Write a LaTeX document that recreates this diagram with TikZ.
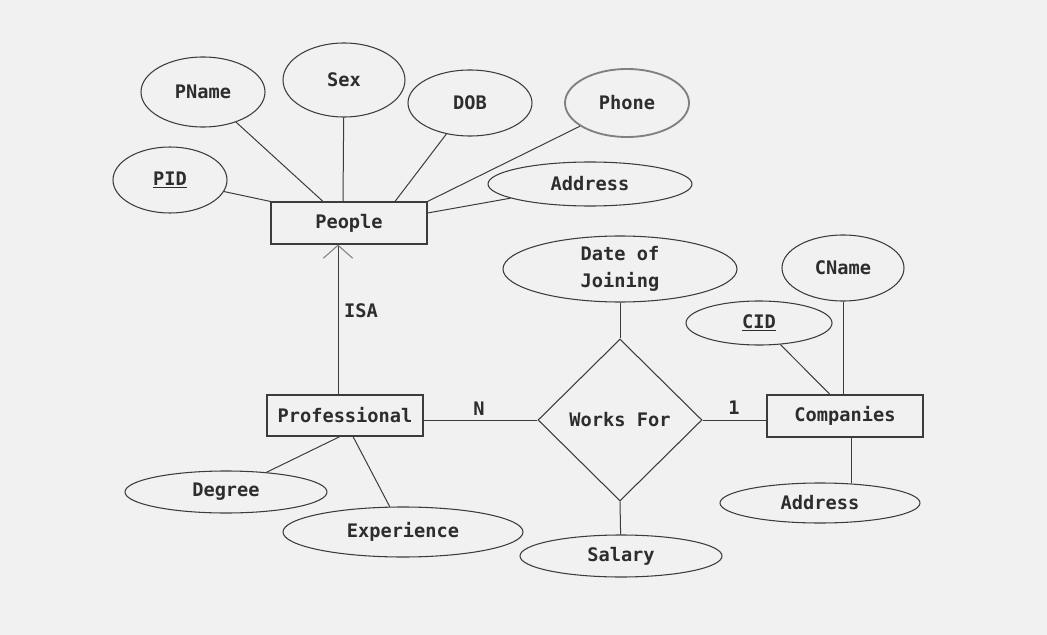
\documentclass[tikz,border=0pt]{standalone}
\usepackage{fontspec}
\setmonofont{DejaVu Sans Mono}
\usetikzlibrary{shapes.geometric,arrows.meta,calc}
\definecolor{bg}{RGB}{241,241,241}
\definecolor{ink}{RGB}{60,60,60}
\definecolor{txt}{RGB}{45,45,45}
\begin{document}
\begin{tikzpicture}[x=0.75pt,y=-0.75pt,
  every node/.style={font=\ttfamily\bfseries\fontsize{14}{20}\selectfont, text=txt},
  attr/.style 2 args={ellipse, draw=ink, line width=0.8pt, inner sep=0pt,
    minimum width=#1*1.5pt, minimum height=#2*1.5pt},
  entity/.style={rectangle, draw=ink, line width=0.8pt, minimum width=117pt,
    minimum height=31.5pt, inner sep=0pt},
  rel/.style={diamond, draw=ink, line width=0.8pt, minimum width=123pt,
    minimum height=121.5pt, inner sep=0pt},
  conn/.style={draw=ink, line width=0.75pt},
  lbl/.style={inner sep=0pt}]
\useasboundingbox (0,0) rectangle (1047,635);
\fill[bg] (0,0) rectangle (1047,635);

% People and its attributes
\node[entity] (people) at (349,223) {People};
\node[attr={62}{35}] (pname) at (203,92) {PName};
\node[attr={61}{37}] (sex) at (344,80) {Sex};
\node[attr={62}{33}] (dob) at (470,103) {DOB};
\node[attr={62}{34}, draw=gray, line width=1.4pt] (phone) at (627,103) {Phone};
\node[attr={57}{33}] (pid) at (170,180) {\underline{PID}};
\node[attr={102}{22}] (paddr) at (590,184) {Address};

\draw[conn] (pid) -- (people.north west);
\draw[conn] (pname) -- ($(people.north)+(-26,0)$);
\draw[conn] (sex) -- ($(people.north)+(-6,0)$);
\draw[conn] (dob) -- ($(people.north)+(46,0)$);
\draw[conn] (phone) -- (people.north east);
\draw[conn] (paddr) -- ($(people.east)+(0,-10)$);

% Professional
\node[entity, minimum height=30.75pt] (professional) at (345,415.5) {Professional};
\node[attr={101}{21}] (degree) at (226,492) {Degree};
\node[attr={120}{25}] (exper) at (403,532) {Experience};
\draw[conn] (degree) -- ($(professional.south)+(-5,0)$);
\draw[conn] (exper) -- ($(professional.south)+(8,0)$);

% ISA
\draw[conn, -{Straight Barb[length=9.75pt, width=22pt, color=gray, line width=0.8pt]}]
  ($(professional.north)+(-7,0)$) -- ($(people.south)+(-11,0)$);
\node[lbl] (isa) at (361,311) {ISA};

% Works For
\node[rel] (works) at (620,420) {Works For};
\node[attr={117}{33}, align=center] (doj) at (620,269) {Date of\\Joining};
\node[attr={101}{21}] (salary) at (621,556) {Salary};
\draw[conn] (doj) -- (works.north);
\draw[conn] (works.south) -- (salary);

% Companies
\node[entity] (companies) at (845,416) {Companies};
\node[attr={61}{33}] (cname) at (843,268) {CName};
\node[attr={73}{22}] (cid) at (759,323) {\underline{CID}};
\node[attr={100}{20}] (caddr) at (820,503) {Address};
\draw[conn] (cname) -- (cname |- companies.north);
\draw[conn] (cid) -- ($(companies.north)+(-15,0)$);
\draw[conn] (caddr.32) -- (caddr.32 |- companies.south);

% relationship lines
\draw[conn] (works.west) -- (works.west -| professional.east);
\draw[conn] (works.east) -- (works.east -| companies.west);
\node[lbl] (n) at (479,409) {N};
\node[lbl] (one) at (734,408) {1};
\end{tikzpicture}
\end{document}
